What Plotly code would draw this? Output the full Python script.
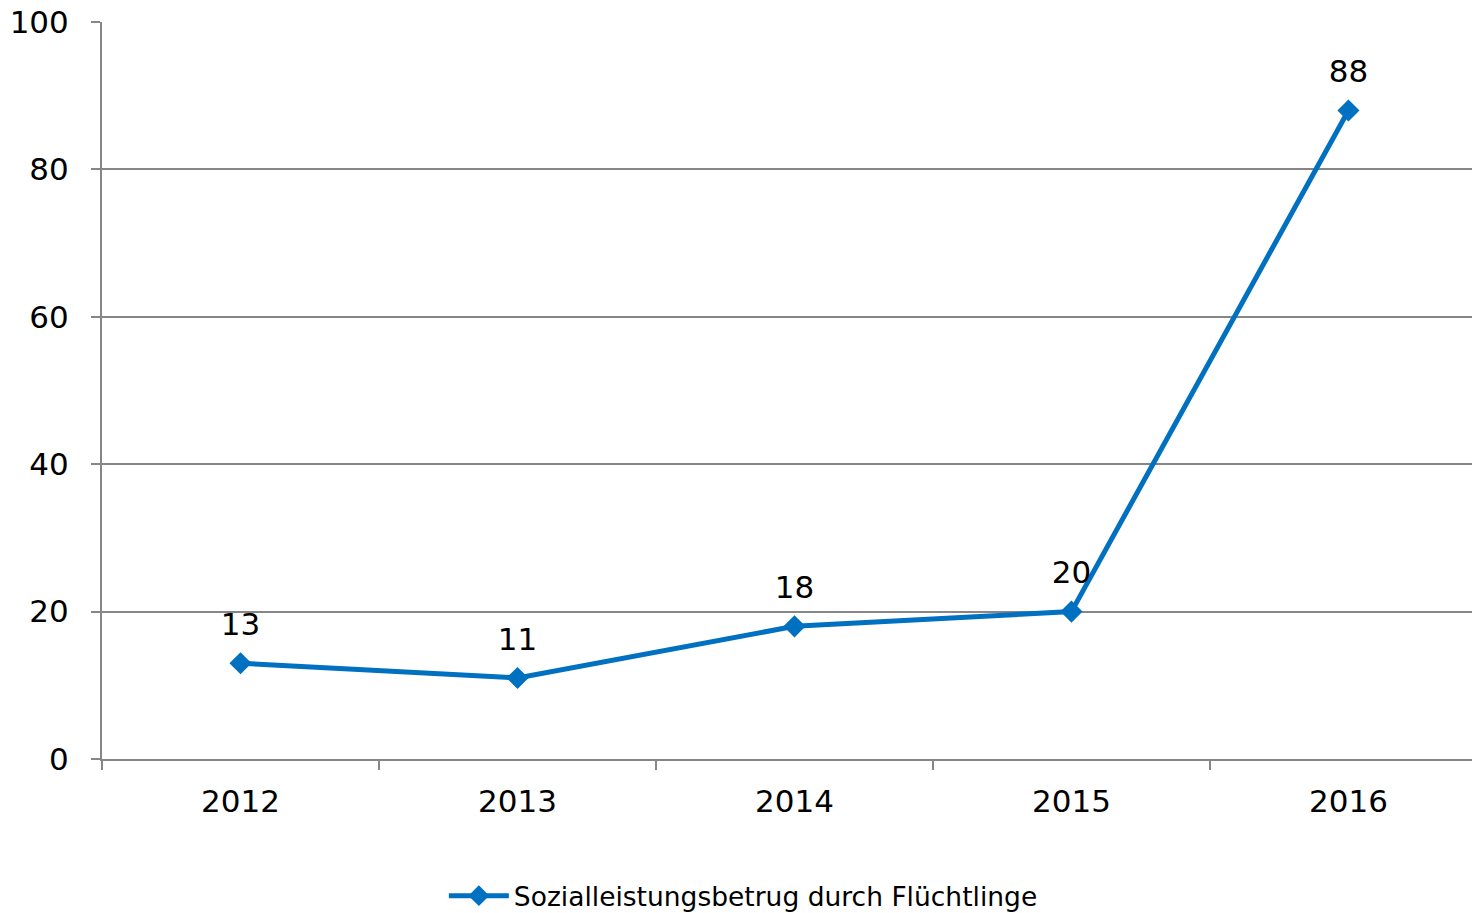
import plotly.graph_objects as go

years = ["2012", "2013", "2014", "2015", "2016"]
values = [13, 11, 18, 20, 88]
series_name = "Sozialleistungsbetrug durch Flüchtlinge"

blue = "#0070C0"
grid = "#868686"

fig = go.Figure()
fig.add_trace(go.Scatter(
    x=years, y=values, name=series_name,
    mode="lines+markers",
    line=dict(color=blue, width=5),
    marker=dict(symbol="diamond", size=17, color=blue),
    cliponaxis=False,
))
# data labels: invisible big markers push the text further above the points
fig.add_trace(go.Scatter(
    x=years, y=values, mode="markers+text", showlegend=False,
    hoverinfo="skip",
    marker=dict(size=31, opacity=0),
    text=[str(v) for v in values],
    textposition="top center",
    textfont=dict(size=31, color="#000000"),
    cliponaxis=False,
))

fig.update_layout(
    width=1472, height=913,
    paper_bgcolor="white",
    plot_bgcolor="white",
    font=dict(family="DejaVu Sans, Verdana, sans-serif", color="#000000", size=31),
    margin=dict(l=102, r=0, t=22, b=154),
    showlegend=True,
    legend=dict(
        orientation="h", xref="container", yref="container",
        x=0.505, y=17 / 913, xanchor="center", yanchor="middle",
        font=dict(size=26.5), itemwidth=60,
    ),
    xaxis=dict(
        type="category", range=[-0.5, 4.446],
        tickson="boundaries", ticks="outside", ticklen=9,
        tickcolor=grid, tickwidth=2,
        showline=True, linecolor=grid, linewidth=2,
        showgrid=False, ticklabelstandoff=14,
    ),
    yaxis=dict(
        range=[0, 100], dtick=20,
        ticks="outside", ticklen=9, tickcolor=grid, tickwidth=2,
        showline=True, linecolor=grid, linewidth=2,
        showgrid=True, gridcolor=grid, gridwidth=2,
        zeroline=False, ticklabelstandoff=16,
    ),
)

fig.write_html(
    "out.html",
    config={"displayModeBar": False},
    post_script="document.body.style.margin='0';document.body.style.overflow='hidden';",
)
